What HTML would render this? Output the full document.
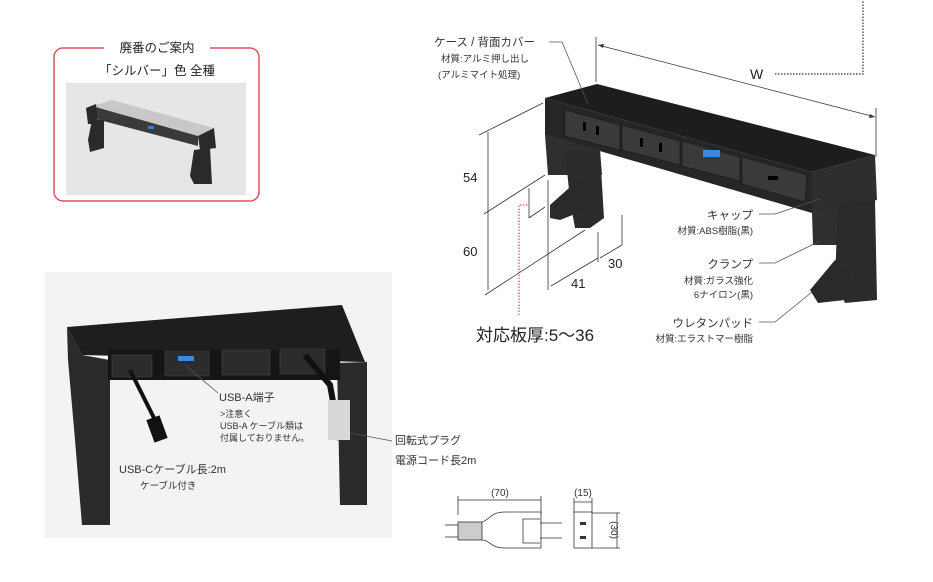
<!DOCTYPE html>
<html><head><meta charset="utf-8"><style>
html,body{margin:0;padding:0;background:#fff;}
svg{display:block;font-family:"Liberation Sans","Noto Sans CJK JP",sans-serif;}
</style></head><body>
<svg width="933" height="582" viewBox="0 0 933 582" xmlns="http://www.w3.org/2000/svg">
<!-- top-left notice box -->
<rect x="54" y="48" width="205" height="153" rx="9" fill="none" stroke="#e05060" stroke-width="1.5"/>
<rect x="104" y="40" width="106" height="16" fill="#fff"/>
<text x="157" y="52" font-size="12.5" text-anchor="middle" fill="#222">廃番のご案内</text>
<text x="157" y="75" font-size="12.5" text-anchor="middle" fill="#222">「シルバー」色 全種</text>
<rect x="66" y="83" width="180" height="112" fill="#e6e6e6"/>
<polygon points="92,106 112,100 214,128 198,136" fill="#c8c8c8"/>
<polygon points="92,106 198,136 198,146 92,118" fill="#3a3a3a"/>
<polygon points="86,108 96,104 98,124 88,124" fill="#2a2a2a"/>
<polygon points="198,136 214,128 216,148 200,150" fill="#2a2a2a"/>
<polygon points="92,120 104,120 104,148 90,152 88,140" fill="#2a2a2a"/>
<polygon points="194,150 210,148 212,184 194,184 190,176" fill="#2a2a2a"/>
<rect x="148" y="126" width="6" height="3" fill="#3a80d0"/>

<!-- main product -->
<polygon points="545,98 597,84 875,155 812,172" fill="#1d1d1d"/>
<polygon points="545,98 812,172 812,213 545,135" fill="#262626"/>
<polygon points="812,172 875,155 877,200 812,213" fill="#2e2e2e"/>
<polygon points="545,135 600,150 602,175 548,175" fill="#2f2f2f"/>
<polygon points="565,150 600,152 604,218 590,228 575,228 570,200" fill="#2b2b2b"/>
<polygon points="550,205 578,180 590,190 585,210 560,220 550,218" fill="#2a2a2a"/>
<polygon points="812,213 842,205 845,245 813,245" fill="#2f2f2f"/>
<polygon points="838,205 875,200 877,300 845,303 835,280" fill="#2b2b2b"/>
<polygon points="810,290 835,260 850,270 845,300 818,303" fill="#2a2a2a"/>
<g fill="#3a3a3a" stroke="#151515" stroke-width="0.6">
<polygon points="565,110 620,125 620,150 565,136"/>
<polygon points="622,125 680,141 680,165 622,150"/>
<polygon points="682,141 740,157 740,181 682,166"/>
<polygon points="742,157 807,175 805,202 742,184"/>
</g>
<g fill="#000">
<rect x="583" y="122" width="3" height="9"/><rect x="596" y="126" width="3" height="9"/>
<rect x="640" y="138" width="3" height="9"/><rect x="659" y="143" width="3" height="9"/>
<rect x="768" y="176" width="10" height="4"/>
</g>
<rect x="703" y="150" width="17" height="7" fill="#3a8be0"/>

<!-- dimension lines -->
<g stroke="#333" stroke-width="0.8" fill="none">
<line x1="596" y1="37" x2="596" y2="82"/>
<line x1="876" y1="108" x2="876" y2="157"/>
<line x1="598" y1="45" x2="875" y2="117"/>
<line x1="479" y1="135" x2="543" y2="103"/>
<line x1="488" y1="132" x2="488" y2="290"/>
<line x1="484" y1="214" x2="545" y2="175"/>
<line x1="485" y1="295" x2="585" y2="230"/>
<line x1="548" y1="180" x2="548" y2="290"/>
<line x1="551" y1="286" x2="598" y2="258"/>
<line x1="598" y1="232" x2="598" y2="262"/>
<line x1="622" y1="215" x2="622" y2="245"/>
<line x1="600" y1="258" x2="622" y2="245"/>
<line x1="529" y1="188" x2="529" y2="218"/>
<line x1="529" y1="218" x2="545" y2="207"/>
</g>
<g fill="#333">
<polygon points="598,45 604,44 603,48"/><polygon points="875,117 869,118 870,114"/>
</g>
<path d="M775,74 H863 V0" stroke="#333" stroke-width="1.2" stroke-dasharray="1.5,1.5" fill="none"/>
<path d="M519,315 V205 H528" stroke="#d03030" stroke-width="1" stroke-dasharray="1.5,1.5" fill="none"/>
<text x="750" y="79" font-size="14" fill="#222">W</text>
<text x="463" y="182" font-size="13" fill="#222">54</text>
<text x="463" y="256" font-size="13" fill="#222">60</text>
<text x="571" y="288" font-size="13" fill="#222">41</text>
<text x="608" y="268" font-size="13" fill="#222">30</text>
<text x="476" y="341" font-size="17" fill="#222">対応板厚:5～36</text>

<!-- labels -->
<g fill="#333" font-size="11.5">
<text x="434" y="46">ケース / 背面カバー</text>
<text x="441" y="62" font-size="9.5">材質:アルミ押し出し</text>
<text x="438" y="78" font-size="9.5">(アルミマイト処理)</text>
<text x="753" y="219" text-anchor="end">キャップ</text>
<text x="753" y="234" text-anchor="end" font-size="9.5">材質:ABS樹脂(黒)</text>
<text x="753" y="268" text-anchor="end">クランプ</text>
<text x="753" y="284" text-anchor="end" font-size="9.5">材質:ガラス強化</text>
<text x="753" y="298" text-anchor="end" font-size="9.5">6ナイロン(黒)</text>
<text x="753" y="327" text-anchor="end">ウレタンパッド</text>
<text x="753" y="342" text-anchor="end" font-size="9.5">材質:エラストマー樹脂</text>
</g>
<g stroke="#555" stroke-width="0.8" fill="none">
<polyline points="549,42 562,42 588,104"/>
<polyline points="759,214 775,214 820,199"/>
<polyline points="759,263 775,263 820,241"/>
<polyline points="759,322 775,322 812,292"/>
</g>

<!-- bottom photo -->
<rect x="45" y="272" width="347" height="266" fill="#f3f3f3"/>
<polygon points="67,327 342,305 365,362 82,355" fill="#1e1e1e"/>
<polygon points="67,327 82,355 110,360 110,525 82,525 75,440 68,360" fill="#2a2a2a"/>
<polygon points="337,363 367,362 367,505 340,505" fill="#2a2a2a"/>
<rect x="108" y="350" width="232" height="30" fill="#151515"/>
<g fill="#2c2c2c" stroke="#444" stroke-width="0.6">
<rect x="112" y="355" width="40" height="22"/><rect x="165" y="351" width="44" height="25"/>
<rect x="222" y="350" width="48" height="25"/><rect x="280" y="349" width="45" height="25"/>
</g>
<rect x="178" y="356" width="16" height="5" fill="#3a8be0"/>
<path d="M130,370 L155,420" stroke="#111" stroke-width="4"/>
<rect x="150" y="417" width="14" height="24" fill="#111" transform="rotate(-20 157 429)"/>
<path d="M305,355 L330,385 L340,440" stroke="#111" stroke-width="6" fill="none"/>
<rect x="328" y="400" width="22" height="40" fill="#d8d8d8"/>
<line x1="185" y1="365" x2="218" y2="393" stroke="#555" stroke-width="0.8"/>
<line x1="350" y1="433" x2="392" y2="441" stroke="#555" stroke-width="0.8"/>
<g fill="#333">
<text x="219" y="401" font-size="11">USB-A端子</text>
<text x="220" y="417" font-size="9">&gt;注意く</text>
<text x="220" y="429" font-size="9">USB-A ケーブル類は</text>
<text x="220" y="441" font-size="9">付属しておりません。</text>
<text x="119" y="473" font-size="11">USB-Cケーブル長:2m</text>
<text x="140" y="489" font-size="9.5">ケーブル付き</text>
<text x="395" y="444" font-size="11">回転式プラグ</text>
<text x="395" y="464" font-size="11">電源コード長2m</text>
<text x="500" y="496" font-size="10" text-anchor="middle">(70)</text>
<text x="583" y="496" font-size="10" text-anchor="middle">(15)</text>
<text x="0" y="0" font-size="10" text-anchor="middle" transform="translate(611,530) rotate(90)">(30)</text>
</g>
<!-- plug drawing -->
<g stroke="#333" stroke-width="0.8" fill="none">
<line x1="458" y1="500" x2="541" y2="500"/><line x1="458" y1="496" x2="458" y2="515"/><line x1="541" y1="496" x2="541" y2="515"/>
<line x1="574" y1="502" x2="592" y2="502"/><line x1="574" y1="498" x2="574" y2="512"/><line x1="592" y1="498" x2="592" y2="512"/>
<line x1="617" y1="513" x2="617" y2="548"/><line x1="592" y1="513" x2="620" y2="513"/><line x1="592" y1="548" x2="620" y2="548"/>
<line x1="445" y1="525" x2="458" y2="525"/><line x1="445" y1="537" x2="458" y2="537"/>
<rect x="458" y="522" width="24" height="18" fill="#ccc"/>
<path d="M482,522 C490,520 490,512 505,512 H541 V548 H505 C490,548 490,540 482,540"/>
<path d="M540,519 H523 V543 H540"/><line x1="540" y1="523" x2="562" y2="523"/><line x1="540" y1="538" x2="562" y2="538"/>
<rect x="574" y="512" width="18" height="36"/>
</g>
<rect x="580" y="522" width="6" height="3" fill="#333"/><rect x="580" y="536" width="6" height="3" fill="#333"/>
</svg>
</body></html>
